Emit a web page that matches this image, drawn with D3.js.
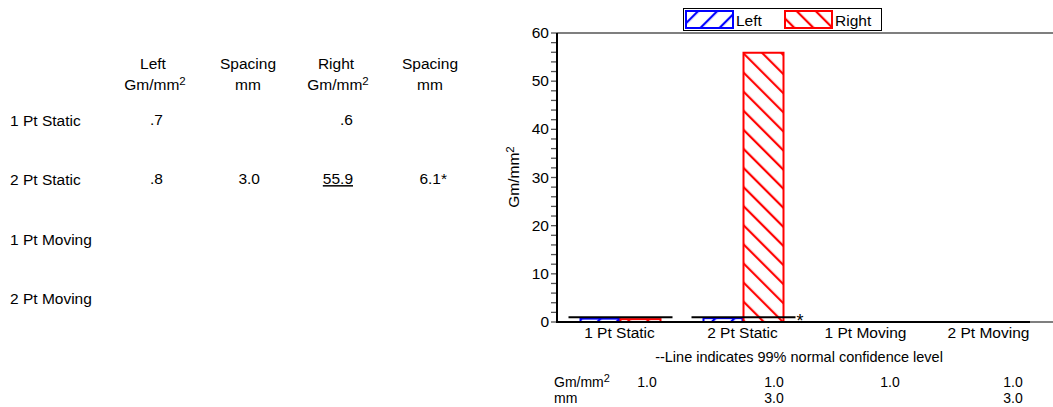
<!DOCTYPE html>
<html><head><meta charset="utf-8">
<script src="https://cdn.jsdelivr.net/npm/d3@7"></script>
<style>
body{margin:0;background:#fff;}
svg{display:block;font-family:"Liberation Sans",Arial,Helvetica,sans-serif;}
</style></head>
<body><svg id="c" width="1053" height="407"></svg>
<script>
// ---- data ----
const categories = ["1 Pt Static", "2 Pt Static", "1 Pt Moving", "2 Pt Moving"];
const leftValues = [0.7, 0.8, null, null];
const rightValues = [0.6, 55.9, null, null];
const leftSpacing = [null, 3.0, null, null];
const rightSpacing = [null, 6.1, null, null];
const rightSignificant = [false, true, false, false];
const confGm = [1.0, 1.0, 1.0, 1.0];
const confMm = [null, 3.0, null, 3.0];
const hasData = [true, true, false, false];
const yTickValues = [0, 10, 20, 30, 40, 50, 60];
const seriesNames = ["Left", "Right"];
const tableHeaders = [["Left", "Gm/mm", true], ["Spacing", "mm", false], ["Right", "Gm/mm", true], ["Spacing", "mm", false]];
const footnote = "--Line indicates 99% normal confidence level";

const svg = d3.select("#c");
const FS = 15.5;
const blue = "#0000ff", red = "#ff0000";

// patterns
const defs = svg.append("defs");
function hatch(id, color, angle) {
  const p = defs.append("pattern").attr("id", id).attr("patternUnits", "userSpaceOnUse")
    .attr("width", 13.5).attr("height", 13.5).attr("patternTransform", `rotate(${angle})`);
  p.append("rect").attr("width", 13.5).attr("height", 13.5).attr("fill", "#fff");
  p.append("line").attr("x1", 2).attr("y1", -1).attr("x2", 2).attr("y2", 15)
    .attr("stroke", color).attr("stroke-width", 2.2);
}
hatch("hL", blue, 45);
hatch("hR", red, -45);

// ---- left table ----
const colRight = [163, 260, 353, 447];
const colCenter = [155, 248, 338, 430];
const rowY = d3.scalePoint().domain(categories).range([126, 304]);
const tbl = svg.append("g").attr("font-size", FS).attr("fill", "#000");
tableHeaders.forEach((h, i) => {
  tbl.append("text").attr("x", colCenter[i] - (h[2] ? 2 : 0)).attr("y", 69).attr("text-anchor", "middle").text(h[0]);
  const t = tbl.append("text").attr("x", colCenter[i]).attr("y", 90).attr("text-anchor", "middle");
  t.append("tspan").text(h[1]);
  if (h[2]) t.append("tspan").attr("dy", -5).attr("font-size", 11.5).text("2");
});
categories.forEach((c, i) => {
  const y = rowY(c);
  tbl.append("text").attr("x", 10).attr("y", y).text(c);
  const fmt = v => (v < 1 ? d3.format(".1f")(v).replace(/^0/, "") : d3.format(".1f")(v));
  const vals = [leftValues[i], leftSpacing[i], rightValues[i], rightSpacing[i]];
  vals.forEach((v, j) => {
    if (v == null) return;
    let s = fmt(v);
    if (j === 3 && rightSignificant[i]) s += "*";
    const t = tbl.append("text").attr("x", colRight[j]).attr("y", y - 1).attr("text-anchor", "end").text(s);
    if (j === 2 && rightSignificant[i]) {
      const bb = t.node().getBBox();
      tbl.append("line").attr("x1", bb.x).attr("x2", bb.x + bb.width)
        .attr("y1", y + 0.5).attr("y2", y + 0.5).attr("stroke", "#000").attr("stroke-width", 1.5);
    }
  });
});

// ---- chart ----
const x = d3.scaleBand().domain(categories).range([558, 1050]).padding(0);
const y = d3.scaleLinear().domain([0, 60]).range([322, 33]);
const barW = 40;
const g = svg.append("g");

// frame lines
g.append("line").attr("x1", 557).attr("x2", 1053).attr("y1", y(60)).attr("y2", y(60)).attr("stroke", "#555").attr("stroke-width", 1.5);
g.append("line").attr("x1", 557).attr("x2", 1053).attr("y1", y(0)).attr("y2", y(0)).attr("stroke", "#555").attr("stroke-width", 1.5);

// y axis
const yMinor = d3.range(0, 61, 2);
g.selectAll("line.minor").data(yMinor).join("line").attr("class", "minor")
  .attr("x1", 551).attr("x2", 557).attr("y1", d => y(d)).attr("y2", d => y(d))
  .attr("stroke", "#555").attr("stroke-width", 1.3);
g.selectAll("text.yl").data(yTickValues).join("text").attr("class", "yl")
  .attr("x", 549).attr("y", d => y(d) + 5).attr("text-anchor", "end").attr("font-size", FS).text(d => d);
g.append("line").attr("x1", 557).attr("x2", 557).attr("y1", y(60)).attr("y2", y(0) + 1).attr("stroke", "#000").attr("stroke-width", 2);

// y title
const yt = g.append("text").attr("transform", "translate(519,177) rotate(-90)").attr("text-anchor", "middle").attr("font-size", FS);
yt.append("tspan").text("Gm/mm");
yt.append("tspan").attr("dy", -5).attr("font-size", 11.5).text("2");

// bars
categories.forEach((c, i) => {
  const cx = x(c) + x.bandwidth() / 2;
  if (leftValues[i] != null) {
    g.append("rect").attr("x", cx - barW + 1).attr("y", y(leftValues[i])).attr("width", barW - 1)
      .attr("height", y(0) - y(leftValues[i])).attr("fill", "url(#hL)").attr("stroke", blue).attr("stroke-width", 2);
  }
  if (rightValues[i] != null) {
    g.append("rect").attr("x", cx + 1).attr("y", y(rightValues[i])).attr("width", barW)
      .attr("height", y(0) - y(rightValues[i])).attr("fill", "url(#hR)").attr("stroke", red).attr("stroke-width", 2);
  }
});

// baseline (thick part)
g.append("line").attr("x1", 557).attr("x2", x(categories[3]) + x.bandwidth() - 20).attr("y1", y(0)).attr("y2", y(0))
  .attr("stroke", "#000").attr("stroke-width", 2.2);

// confidence lines
categories.forEach((c, i) => {
  if (!hasData[i]) return;
  const cx = x(c) + x.bandwidth() / 2;
  g.append("line").attr("x1", cx - 51).attr("x2", cx + 53).attr("y1", y(confGm[i])).attr("y2", y(confGm[i]))
    .attr("stroke", "#000").attr("stroke-width", 2);
  if (rightSignificant[i]) {
    g.append("text").attr("x", cx + 54).attr("y", y(0) + 5).attr("font-size", 18).text("*");
  }
});

// x labels
g.selectAll("text.xl").data(categories).join("text").attr("class", "xl")
  .attr("x", d => x(d) + x.bandwidth() / 2).attr("y", 338).attr("text-anchor", "middle").attr("font-size", FS).text(d => d);

// footnote
g.append("text").attr("x", 799).attr("y", 362).attr("text-anchor", "middle").attr("font-size", 14.5).text(footnote);

// bottom rows
const br = g.append("g").attr("font-size", 14);
const bt = br.append("text").attr("x", 554).attr("y", 387);
bt.append("tspan").text("Gm/mm");
bt.append("tspan").attr("dy", -5).attr("font-size", 11).text("2");
br.append("text").attr("x", 554).attr("y", 403).text("mm");
const botX = [647, 774, 890, 1013];
categories.forEach((c, i) => {
  if (confGm[i] != null) br.append("text").attr("x", botX[i]).attr("y", 387).attr("text-anchor", "middle").text(d3.format(".1f")(confGm[i]));
  if (confMm[i] != null) br.append("text").attr("x", botX[i]).attr("y", 403).attr("text-anchor", "middle").text(d3.format(".1f")(confMm[i]));
});

// legend
const lg = svg.append("g");
lg.append("rect").attr("x", 683.5).attr("y", 8.5).attr("width", 198).attr("height", 22).attr("fill", "#fff").attr("stroke", "#000").attr("stroke-width", 1);
const lx = [686, 785];
const fills = ["url(#hL)", "url(#hR)"], strokes = [blue, red];
seriesNames.forEach((s, i) => {
  lg.append("rect").attr("x", lx[i]).attr("y", 11).attr("width", 47).attr("height", 17)
    .attr("fill", fills[i]).attr("stroke", strokes[i]).attr("stroke-width", 2);
  lg.append("text").attr("x", lx[i] + 50).attr("y", 26).attr("font-size", FS).text(s);
});
</script></body></html>
